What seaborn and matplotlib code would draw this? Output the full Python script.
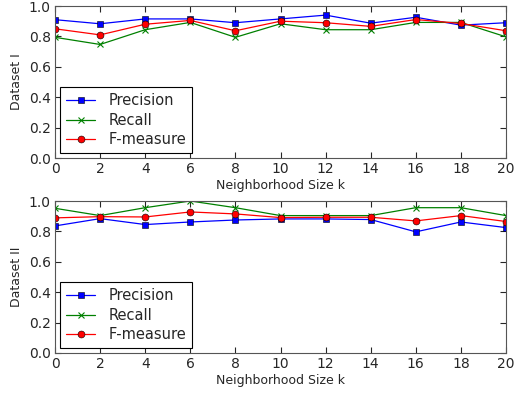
import matplotlib
matplotlib.use('Agg')
import matplotlib.pyplot as plt
import seaborn as sns
import pandas as pd

# Neighborhood sizes
k_values = [0, 2, 4, 6, 8, 10, 12, 14, 16, 18, 20]

# Dataset I
precision_1 = [0.91, 0.883, 0.915, 0.915, 0.89, 0.915, 0.94, 0.887, 0.926, 0.874, 0.89]
recall_1 = [0.794, 0.747, 0.844, 0.892, 0.794, 0.883, 0.844, 0.844, 0.892, 0.892, 0.797]
fmeasure_1 = [0.85, 0.81, 0.88, 0.905, 0.837, 0.90, 0.89, 0.866, 0.911, 0.885, 0.837]

# Dataset II
precision_2 = [0.836, 0.884, 0.845, 0.862, 0.875, 0.882, 0.882, 0.878, 0.797, 0.862, 0.825]
recall_2 = [0.952, 0.904, 0.956, 1.0, 0.956, 0.904, 0.904, 0.904, 0.956, 0.956, 0.904]
fmeasure_2 = [0.889, 0.897, 0.895, 0.928, 0.915, 0.891, 0.893, 0.893, 0.869, 0.904, 0.865]

series_names = ['Precision', 'Recall', 'F-measure']
colors = ['blue', 'green', 'red']
markers = ['s', 'x', 'o']

sns.set_style('ticks')
plt.rcParams['font.family'] = ['DejaVu Sans']
plt.rcParams['xtick.direction'] = 'in'
plt.rcParams['ytick.direction'] = 'in'
plt.rcParams['xtick.top'] = True
plt.rcParams['ytick.right'] = True

fig = plt.figure(figsize=(5.16, 3.96), dpi=100)
ax1 = fig.add_axes([55 / 516, 1 - 158 / 396, 451 / 516, 152 / 396])
ax2 = fig.add_axes([55 / 516, 1 - 353 / 396, 451 / 516, 152 / 396])

datasets = [
    (ax1, 'Dataset I', [precision_1, recall_1, fmeasure_1]),
    (ax2, 'Dataset II', [precision_2, recall_2, fmeasure_2]),
]

for ax, ylabel, values in datasets:
    for name, vals, c, m in zip(series_names, values, colors, markers):
        df = pd.DataFrame({'k': k_values, 'v': vals})
        sns.lineplot(data=df, x='k', y='v', ax=ax, color=c, marker=m,
                     markersize=5, linewidth=0.9, label=name,
                     markeredgecolor=c if m == 'x' else 'black',
                     markeredgewidth=0.4 if m != 'x' else 0.8)
    ax.set_xlim(0, 20)
    ax.set_ylim(0, 1.0)
    ax.set_xticks(range(0, 21, 2))
    ax.set_yticks([0.0, 0.2, 0.4, 0.6, 0.8, 1.0])
    ax.tick_params(labelsize=10, length=4, width=0.8, pad=3)
    ax.set_xlabel('Neighborhood Size k', fontsize=9, labelpad=2)
    ax.set_ylabel(ylabel, fontsize=9, labelpad=4)
    for s in ax.spines.values():
        s.set_color('#555555')
    leg = ax.legend(loc='lower left', fontsize=10.5, fancybox=False, framealpha=1,
                    edgecolor='black', borderaxespad=0.35, handlelength=2.0,
                    labelspacing=0.3, borderpad=0.4, handletextpad=0.9)
    leg.get_frame().set_linewidth(0.8)

fig.savefig('out.png', dpi=100)
